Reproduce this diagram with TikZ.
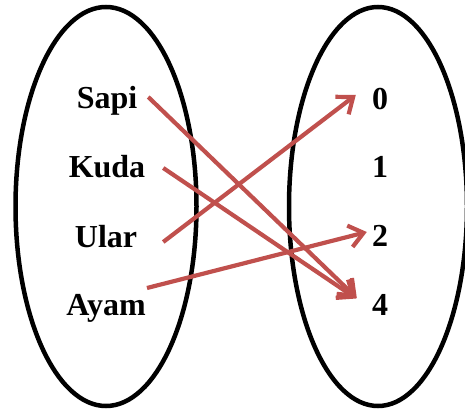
\documentclass[tikz,border=0pt]{standalone}
\usepackage{fontspec}
\setmainfont{Liberation Serif}
\usetikzlibrary{arrows.meta}
\definecolor{merah}{RGB}{192,80,77}
\begin{document}
\begin{tikzpicture}[x=1pt,y=-1pt,
	every node/.style={font=\bfseries\fontsize{32}{32}\selectfont,anchor=base,inner sep=0pt,text height=21pt,text depth=0pt},
	himpunan/.style={line width=4.5pt},
	panah/.style={draw=merah,line width=4.2pt,-{Straight Barb[length=14pt,width=22pt]}}]
	\clip(0,0)rectangle(465,412);
	%domain dan kodomain
	\draw[himpunan](106,206.5)ellipse[x radius=90.5,y radius=199.5];
	\draw[himpunan](378,206.5)ellipse[x radius=89,y radius=199.5];
	\node(Sapi)at(107,108){Sapi};
	\node(Kuda)at(107,177){Kuda};
	\node(Ular)at(106,247){Ular};
	\node(Ayam)at(106,315){Ayam};
	\node(N0)at(380,109){0};
	\node(N1)at(380,177){1};
	\node(N2)at(380,246){2};
	\node(N4)at(380,315){4};
	%relasi
	\draw[panah]([shift={(10.8,-0.5)}]Sapi.east)--([shift={(-15,-6.5)}]N4.west);
	\draw[panah]([shift={(17.8,1.5)}]Kuda.east)--([shift={(-15.5,-6)}]N4.west);
	\draw[panah]([shift={(25.9,5.5)}]Ular.east)--([shift={(-16,-3.5)}]N0.west);
	\draw[panah]([shift={(1.1,-16.5)}]Ayam.east)--([shift={(-5,-3.5)}]N2.west);
\end{tikzpicture}
\end{document}
